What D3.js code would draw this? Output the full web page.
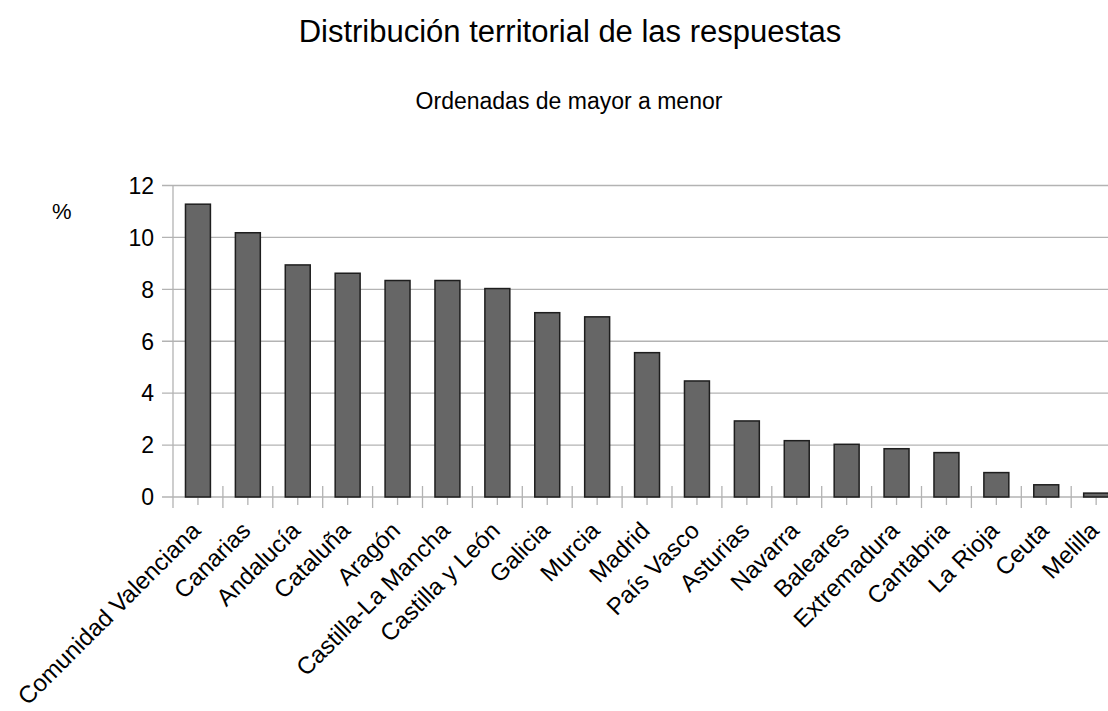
<!DOCTYPE html>
<html>
<head>
<meta charset="utf-8">
<script src="https://cdn.jsdelivr.net/npm/d3@7"></script>
<style>
  body { margin: 0; background: #fff; }
  svg { display: block; font-family: "Liberation Sans", Arial, sans-serif; }
</style>
</head>
<body>
<div id="chart"></div>
<script>
// territorial distribution, sorted high to low
var regions = ["Comunidad Valenciana", "Canarias", "Andalucía", "Cataluña", "Aragón",
  "Castilla-La Mancha", "Castilla y León", "Galicia", "Murcia", "Madrid", "País Vasco",
  "Asturias", "Navarra", "Baleares", "Extremadura", "Cantabria", "La Rioja", "Ceuta", "Melilla"];
var percents = [11.28, 10.18, 8.94, 8.62, 8.34, 8.34, 8.03, 7.10, 6.94, 5.56, 4.47,
  2.93, 2.17, 2.03, 1.86, 1.71, 0.94, 0.47, 0.15];
var yTicks = [0, 2, 4, 6, 8, 10, 12];

var width = 1108, height = 711;
var plotLeft = 173, plotTop = 185.5, plotBottom = 497;
var step = 49.9;
var plotRight = plotLeft + regions.length * step;

var svg = d3.select("#chart").append("svg")
    .attr("width", width)
    .attr("height", height);

var x = d3.scaleBand()
    .domain(regions)
    .range([plotLeft, plotRight])
    .paddingInner(0.5)
    .paddingOuter(0.25);

var y = d3.scaleLinear()
    .domain([0, 12])
    .range([plotBottom, plotTop]);

// titles
svg.append("text")
    .attr("x", 570).attr("y", 42)
    .attr("text-anchor", "middle")
    .style("font-size", "31px")
    .text("Distribución territorial de las respuestas");

svg.append("text")
    .attr("x", 569).attr("y", 109)
    .attr("text-anchor", "middle")
    .style("font-size", "23px")
    .text("Ordenadas de mayor a menor");

svg.append("text")
    .attr("x", 52).attr("y", 219)
    .style("font-size", "22px")
    .text("%");

// gridlines + y labels
svg.selectAll(".grid")
    .data(yTicks)
    .enter().append("line")
    .attr("x1", 162).attr("x2", width)
    .attr("y1", function(d) { return y(d); })
    .attr("y2", function(d) { return y(d); })
    .attr("stroke", "#b3b3b3")
    .attr("stroke-width", 1.3);

svg.selectAll(".ylab")
    .data(yTicks)
    .enter().append("text")
    .attr("x", 154)
    .attr("y", function(d) { return y(d); })
    .attr("dy", "0.36em")
    .attr("text-anchor", "end")
    .style("font-size", "23px")
    .text(function(d) { return d; });

// y axis line
svg.append("line")
    .attr("x1", plotLeft).attr("x2", plotLeft)
    .attr("y1", plotTop).attr("y2", plotBottom + 11)
    .attr("stroke", "#b3b3b3").attr("stroke-width", 1.3);

// category boundary ticks and centre ticks
var bounds = d3.range(1, regions.length).map(function(i) { return x(regions[i]) - x.step() * 0.25; });
svg.selectAll(".btick")
    .data(bounds)
    .enter().append("line")
    .attr("x1", function(d) { return d; })
    .attr("x2", function(d) { return d; })
    .attr("y1", plotBottom - 11).attr("y2", plotBottom + 11)
    .attr("stroke", "#b3b3b3").attr("stroke-width", 1.3);

svg.selectAll(".ctick")
    .data(regions)
    .enter().append("line")
    .attr("x1", function(d) { return x(d) + x.bandwidth() / 2; })
    .attr("x2", function(d) { return x(d) + x.bandwidth() / 2; })
    .attr("y1", plotBottom).attr("y2", plotBottom + 8)
    .attr("stroke", "#b3b3b3").attr("stroke-width", 1.3);

// bars
svg.selectAll(".bar")
    .data(regions)
    .enter().append("rect")
    .attr("x", function(d) { return x(d); })
    .attr("y", function(d, i) { return y(percents[i]); })
    .attr("width", x.bandwidth())
    .attr("height", function(d, i) { return plotBottom - y(percents[i]); })
    .attr("fill", "#666666")
    .attr("stroke", "#1e1e1e")
    .attr("stroke-width", 1.5);

// category labels
svg.selectAll(".xlab")
    .data(regions)
    .enter().append("text")
    .attr("transform", function(d) {
        return "translate(" + (x(d) + x.bandwidth() / 2 - 8) + ",520) rotate(-45)";
    })
    .attr("dy", "0.71em")
    .attr("text-anchor", "end")
    .style("font-size", "24px")
    .text(function(d) { return d; });
</script>
</body>
</html>
